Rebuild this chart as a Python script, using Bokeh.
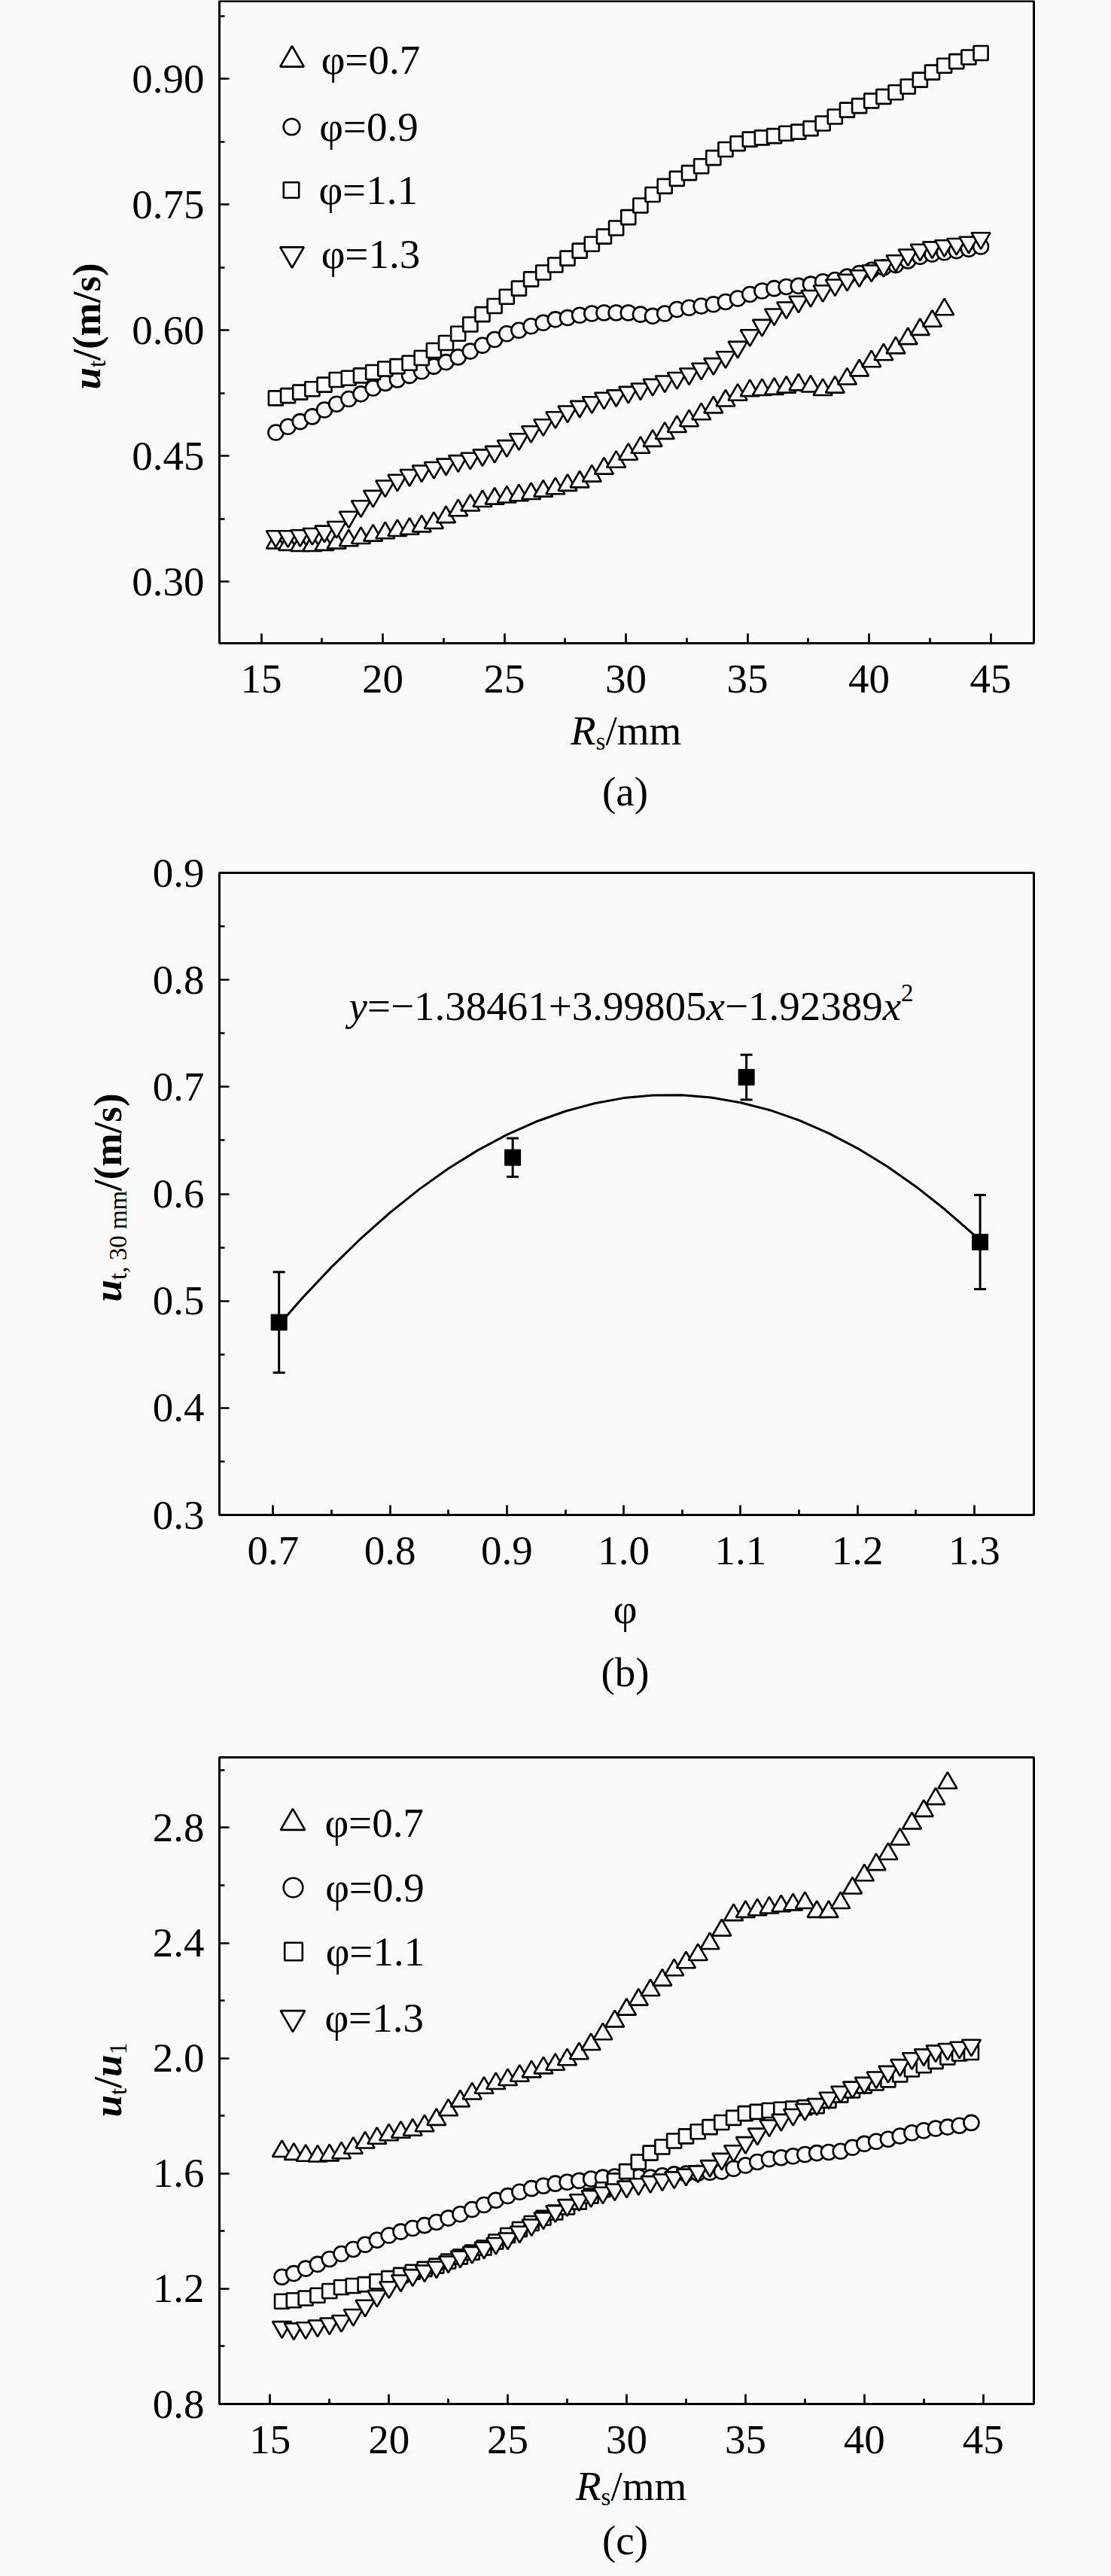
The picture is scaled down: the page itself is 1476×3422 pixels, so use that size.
from math import pi
from bokeh.plotting import figure
from bokeh.layouts import column
from bokeh.models import (Range1d, FixedTicker, NumeralTickFormatter, Label, Legend, LinearAxis,
                          LegendItem, ColumnDataSource, Whisker, TeeHead, BoxAnnotation, Grid)
from bokeh.embed import file_html
from bokeh.resources import INLINE

# ---------------- data ----------------
XA = [15.6, 16.1, 16.6, 17.1, 17.6, 18.1, 18.6, 19.1, 19.6, 20.1, 20.6, 21.1, 21.6, 22.1, 22.6,
      23.1, 23.6, 24.1, 24.6, 25.1, 25.6, 26.1, 26.6, 27.1, 27.6, 28.1, 28.6, 29.1, 29.6, 30.1,
      30.6, 31.1, 31.6, 32.1, 32.6, 33.1, 33.6, 34.1, 34.6, 35.1, 35.6, 36.1, 36.6, 37.1, 37.6,
      38.1, 38.6, 39.1, 39.6, 40.1, 40.6, 41.1, 41.6, 42.1, 42.6, 43.1, 43.6, 44.1, 44.6]
A_07 = [0.346, 0.344, 0.343, 0.343, 0.344, 0.346, 0.349, 0.352, 0.355, 0.358,
        0.361, 0.363, 0.366, 0.370, 0.377, 0.385, 0.391, 0.396, 0.399, 0.401,
        0.403, 0.405, 0.408, 0.411, 0.415, 0.419, 0.426, 0.435, 0.443, 0.452,
        0.460, 0.468, 0.477, 0.485, 0.492, 0.500, 0.508, 0.516, 0.523, 0.528,
        0.529, 0.530, 0.532, 0.535, 0.533, 0.529, 0.532, 0.542, 0.552, 0.563,
        0.571, 0.579, 0.590, 0.601, 0.611, 0.625]
A_09 = [0.478, 0.485, 0.491, 0.497, 0.505, 0.512, 0.518, 0.524, 0.531, 0.537,
        0.541, 0.546, 0.551, 0.557, 0.562, 0.568, 0.575, 0.582, 0.589, 0.596,
        0.600, 0.605, 0.609, 0.613, 0.615, 0.618, 0.620, 0.621, 0.621, 0.621,
        0.619, 0.617, 0.620, 0.625, 0.627, 0.629, 0.631, 0.634, 0.638, 0.643,
        0.647, 0.650, 0.652, 0.653, 0.655, 0.658, 0.660, 0.664, 0.668, 0.672,
        0.675, 0.678, 0.683, 0.688, 0.691, 0.693, 0.695, 0.697, 0.700]
A_11 = [0.519, 0.522, 0.526, 0.530, 0.535, 0.541, 0.543, 0.546, 0.550, 0.554,
        0.557, 0.561, 0.567, 0.576, 0.585, 0.596, 0.607, 0.619, 0.629, 0.640,
        0.650, 0.661, 0.669, 0.678, 0.686, 0.695, 0.703, 0.712, 0.722, 0.735,
        0.749, 0.762, 0.772, 0.781, 0.788, 0.796, 0.806, 0.816, 0.823, 0.828,
        0.830, 0.832, 0.835, 0.837, 0.841, 0.847, 0.855, 0.863, 0.868, 0.874,
        0.879, 0.884, 0.891, 0.899, 0.908, 0.916, 0.921, 0.926, 0.931]
A_13 = [0.354, 0.354, 0.355, 0.357, 0.360, 0.365, 0.377, 0.390, 0.402, 0.414,
        0.421, 0.427, 0.432, 0.436, 0.440, 0.444, 0.447, 0.451, 0.455, 0.462,
        0.470, 0.479, 0.487, 0.496, 0.503, 0.509, 0.514, 0.519, 0.522, 0.526,
        0.530, 0.535, 0.539, 0.543, 0.548, 0.554, 0.560, 0.568, 0.580, 0.594,
        0.606, 0.619, 0.627, 0.634, 0.641, 0.647, 0.654, 0.660, 0.665, 0.671,
        0.677, 0.683, 0.690, 0.696, 0.699, 0.701, 0.703, 0.705, 0.710]

PHI = [0.705, 0.905, 1.105, 1.305]
UT30 = [0.480, 0.634, 0.709, 0.555]
UT30_ERR = [0.047, 0.018, 0.021, 0.044]
FIT_X = [0.705, 0.725, 0.75, 0.775, 0.80, 0.825, 0.85, 0.875, 0.90, 0.925, 0.95, 0.975, 1.00,
         1.025, 1.05, 1.075, 1.10, 1.125, 1.15, 1.175, 1.20, 1.225, 1.25, 1.275, 1.30, 1.305]
FIT_Y = [0.4778, 0.5027, 0.5317, 0.5583, 0.5825, 0.6043, 0.6237, 0.6407, 0.6553, 0.6675,
         0.6772, 0.6846, 0.6896, 0.6921, 0.6923, 0.6900, 0.6853, 0.6783, 0.6688, 0.6569,
         0.6427, 0.6260, 0.6069, 0.5854, 0.5615, 0.5564]

XC = [15.5, 16.0, 16.5, 17.0, 17.5, 18.0, 18.5, 19.0, 19.5, 20.0, 20.5, 21.0, 21.5, 22.0, 22.5,
      23.0, 23.5, 24.0, 24.5, 25.0, 25.5, 26.0, 26.5, 27.0, 27.5, 28.0, 28.5, 29.0, 29.5, 30.0,
      30.5, 31.0, 31.5, 32.0, 32.5, 33.0, 33.5, 34.0, 34.5, 35.0, 35.5, 36.0, 36.5, 37.0, 37.5,
      38.0, 38.5, 39.0, 39.5, 40.0, 40.5, 41.0, 41.5, 42.0, 42.5, 43.0, 43.5, 44.0, 44.5]
C_07 = [1.677, 1.667, 1.662, 1.660, 1.663, 1.671, 1.688, 1.707, 1.722, 1.734,
        1.743, 1.751, 1.765, 1.787, 1.820, 1.851, 1.877, 1.897, 1.912, 1.925,
        1.939, 1.953, 1.966, 1.978, 1.995, 2.016, 2.048, 2.084, 2.128, 2.169,
        2.203, 2.236, 2.271, 2.306, 2.332, 2.359, 2.398, 2.444, 2.497, 2.508,
        2.515, 2.522, 2.528, 2.533, 2.539, 2.508, 2.508, 2.539, 2.590, 2.635,
        2.672, 2.709, 2.760, 2.815, 2.858, 2.900, 2.955]
C_09 = [1.241, 1.253, 1.270, 1.285, 1.303, 1.321, 1.337, 1.353, 1.369, 1.385,
        1.398, 1.410, 1.420, 1.431, 1.445, 1.459, 1.475, 1.491, 1.507, 1.522,
        1.536, 1.548, 1.557, 1.565, 1.570, 1.575, 1.581, 1.586, 1.589, 1.590,
        1.588, 1.586, 1.592, 1.597, 1.599, 1.601, 1.604, 1.607, 1.617, 1.628,
        1.640, 1.650, 1.655, 1.660, 1.666, 1.671, 1.674, 1.677, 1.690, 1.703,
        1.711, 1.719, 1.730, 1.741, 1.749, 1.756, 1.761, 1.766, 1.776]
C_11 = [1.156, 1.160, 1.167, 1.177, 1.192, 1.205, 1.210, 1.215, 1.225, 1.236,
        1.247, 1.258, 1.268, 1.279, 1.295, 1.311, 1.326, 1.342, 1.363, 1.385,
        1.406, 1.427, 1.446, 1.465, 1.483, 1.501, 1.522, 1.544, 1.575, 1.607,
        1.640, 1.671, 1.692, 1.713, 1.729, 1.745, 1.761, 1.777, 1.793, 1.808,
        1.814, 1.819, 1.822, 1.825, 1.829, 1.834, 1.853, 1.872, 1.888, 1.904,
        1.914, 1.925, 1.943, 1.961, 1.975, 1.989, 2.003, 2.016, 2.020]
C_13 = [1.067, 1.061, 1.064, 1.071, 1.079, 1.088, 1.109, 1.141, 1.175, 1.205,
        1.228, 1.247, 1.262, 1.275, 1.293, 1.311, 1.326, 1.342, 1.357, 1.374,
        1.397, 1.421, 1.445, 1.469, 1.490, 1.508, 1.521, 1.533, 1.544, 1.554,
        1.563, 1.571, 1.578, 1.586, 1.596, 1.607, 1.626, 1.650, 1.678, 1.707,
        1.737, 1.766, 1.786, 1.804, 1.822, 1.840, 1.862, 1.883, 1.899, 1.914,
        1.933, 1.953, 1.976, 1.999, 2.012, 2.025, 2.031, 2.037, 2.045]

SERIES_LABELS = ["φ=0.7", "φ=0.9", "φ=1.1", "φ=1.3"]

XA_TICKS = [15, 20, 25, 30, 35, 40, 45]
XA_MINOR = [17.5, 22.5, 27.5, 32.5, 37.5, 42.5]
YA_TICKS = [0.30, 0.45, 0.60, 0.75, 0.90]
YA_MINOR = [0.375, 0.525, 0.675, 0.825, 0.975]
XB_TICKS = [0.7, 0.8, 0.9, 1.0, 1.1, 1.2, 1.3]
XB_MINOR = [0.75, 0.85, 0.95, 1.05, 1.15, 1.25]
YB_TICKS = [0.3, 0.4, 0.5, 0.6, 0.7, 0.8, 0.9]
YB_MINOR = [0.35, 0.45, 0.55, 0.65, 0.75, 0.85]
XC_TICKS = [15, 20, 25, 30, 35, 40, 45]
XC_MINOR = [17.5, 22.5, 27.5, 32.5, 37.5, 42.5]
YC_TICKS = [0.8, 1.2, 1.6, 2.0, 2.4, 2.8]
YC_MINOR = [1.0, 1.4, 1.8, 2.2, 2.6, 3.0]

# ---------------- style / layout ----------------
FONT = "Liberation Serif"
FS = "55px"
YFS = "53px"
SUB = "33px"
BG = "#fafafa"
LW = 3
TLW = 2.7
MLW = 2.6
MARGIN = 8
CANVAS_W = 1460

# plot box geometry in page pixels; canvas top and height per panel
PA = dict(L=299, T=9, W=1082, H=853, xr=(13.28, 46.78), yr=(0.2264, 0.993), top=8, height=1100)
PB = dict(L=299, T=1167, W=1082, H=853, xr=(0.654, 1.351), yr=(0.3, 0.9), top=1108, height=1172)
PC = dict(L=299, T=2342, W=1082, H=859, xr=(12.87, 47.13), yr=(0.8, 3.044), top=2280, height=1134)


def canvas_ranges(P):
    x0, x1 = P["xr"]
    y0, y1 = P["yr"]
    sx = (x1 - x0) / P["W"]
    sy = (y1 - y0) / P["H"]
    cx0 = x0 - (P["L"] - MARGIN) * sx
    cy1 = y1 + (P["T"] - P["top"]) * sy
    P["sx"], P["sy"], P["cx0"], P["cy1"] = sx, sy, cx0, cy1
    return (cx0, cx0 + CANVAS_W * sx), (cy1 - P["height"] * sy, cy1)


def style_axis(ax, ticks, minor, fmt, standoff):
    ax.ticker = FixedTicker(ticks=ticks, minor_ticks=minor)
    ax.formatter = NumeralTickFormatter(format=fmt)
    ax.axis_line_width = LW
    ax.axis_line_color = "black"
    ax.major_tick_line_width = TLW
    ax.minor_tick_line_width = TLW
    ax.major_tick_line_color = "black"
    ax.minor_tick_line_color = "black"
    ax.major_tick_in = 13
    ax.major_tick_out = 0
    ax.minor_tick_in = 7
    ax.minor_tick_out = 0
    ax.major_label_text_font = FONT
    ax.major_label_text_font_size = FS
    ax.major_label_text_color = "black"
    ax.major_label_standoff = standoff


def make_fig(P, xt, xm, xfmt, yt, ym, yfmt):
    xr, yr = canvas_ranges(P)
    p = figure(width=CANVAS_W, height=P["height"], min_border=0,
               x_range=Range1d(*xr), y_range=Range1d(*yr),
               x_axis_location=None, y_axis_location=None,
               output_backend="svg", toolbar_location=None,
               background_fill_color=BG, border_fill_color=BG)
    p.outline_line_color = None
    for r in p.center:
        if isinstance(r, Grid):
            r.visible = False
    x0, x1 = P["xr"]
    y0, y1 = P["yr"]
    xax = LinearAxis(fixed_location=y0, bounds=(x0, x1))
    style_axis(xax, xt, xm, xfmt, 29)
    p.add_layout(xax, "below")
    yax = LinearAxis(fixed_location=x0, bounds=(y0, y1))
    style_axis(yax, yt, ym, yfmt, 20)
    p.add_layout(yax, "left")
    p.add_layout(BoxAnnotation(left=x0, right=x1, bottom=y0, top=y1, fill_color=None,
                               fill_alpha=0, line_color="black", line_width=LW, line_alpha=1))
    return p


def put(p, P, px, py, text, size=FS, style="normal", align="left", baseline="middle", angle=0.0):
    dx = P["cx0"] + (px - MARGIN) * P["sx"]
    dy = P["cy1"] - (py - P["top"]) * P["sy"]
    p.add_layout(Label(x=dx, y=dy, x_units="data", y_units="data", text=text,
                       text_font=FONT, text_font_size=size, text_font_style=style,
                       text_color="black", text_align=align, text_baseline=baseline,
                       angle=angle, angle_units="rad"))


def add_series(p, xs, ys_list, sizes):
    markers = ["triangle", "circle", "square", "inverted_triangle"]
    rends = []
    for ys, mk, sz in zip(ys_list, markers, sizes):
        src = ColumnDataSource(dict(x=xs[:len(ys)], y=ys))
        r = p.scatter(x="x", y="y", source=src, marker=mk, size=sz,
                      line_color="black", line_width=MLW, fill_color=BG)
        rends.append(r)
    return rends


def add_legend(p, P, rends, cx, text_left, centers, key_sizes):
    gh = 90
    canvas_bottom = P["top"] + P["height"]
    for lab, r, cy, ks in zip(SERIES_LABELS, rends, centers, key_sizes):
        gw = ks / 0.4
        left_canvas = cx - gw / 2 - MARGIN
        from_bottom = canvas_bottom - (cy + gh / 2)
        leg = Legend(items=[LegendItem(label=lab, renderers=[r])],
                     location=(left_canvas, from_bottom), orientation="vertical",
                     glyph_width=int(round(gw)), glyph_height=gh,
                     label_standoff=int(round(text_left - cx - gw / 2)), spacing=0,
                     padding=0, margin=0, background_fill_alpha=0, border_line_alpha=0,
                     label_text_font=FONT, label_text_font_size=FS, label_text_color="black")
        p.add_layout(leg)


MSIZES = [25, 20, 19, 25]

# ---------------- panel (a) ----------------
pa = make_fig(PA, XA_TICKS, XA_MINOR, "0", YA_TICKS, YA_MINOR, "0.00")
ra = add_series(pa, XA, [A_07, A_09, A_11, A_13], MSIZES)
add_legend(pa, PA, ra, 395, 432, [87, 176, 260, 345], [31.5, 21.5, 20.5, 31.5])
put(pa, PA, 122, 525, "u", size=YFS, style="bold italic", angle=pi / 2)
put(pa, PA, 136, 495.5, "t", size=SUB, angle=pi / 2)
put(pa, PA, 122, 486.3, "/(m/s)", size=YFS, style="bold", angle=pi / 2)
put(pa, PA, 765.5, 978, "R", style="italic")
put(pa, PA, 799.1, 992, "s", size=SUB)
put(pa, PA, 811.9, 978, "/mm")
put(pa, PA, 838, 1059, "(a)", align="center")

# ---------------- panel (b) ----------------
pb = make_fig(PB, XB_TICKS, XB_MINOR, "0.0", YB_TICKS, YB_MINOR, "0.0")
pb.line(FIT_X, FIT_Y, line_color="black", line_width=LW)
src_b = ColumnDataSource(dict(x=PHI, y=UT30,
                              lo=[v - e for v, e in zip(UT30, UT30_ERR)],
                              hi=[v + e for v, e in zip(UT30, UT30_ERR)]))
wk = Whisker(base="x", upper="hi", lower="lo", source=src_b, dimension="height",
             line_color="black", line_width=LW,
             upper_head=TeeHead(size=16, line_color="black", line_width=LW),
             lower_head=TeeHead(size=16, line_color="black", line_width=LW))
pb.add_layout(wk)
pb.scatter(x="x", y="y", source=src_b, marker="square", size=21,
           line_color="black", fill_color="black")
put(pb, PB, 471, 1344, "y", size="55px", style="italic")
put(pb, PB, 495.4, 1344, "=−1.38461+3.99805", size="55px")
put(pb, PB, 946, 1344, "x", size="55px", style="italic")
put(pb, PB, 970.4, 1344, "−1.92389", size="55px")
put(pb, PB, 1180.2, 1344, "x", size="55px", style="italic")
put(pb, PB, 1204.6, 1326, "2", size=SUB)
put(pb, PB, 150, 1737, "u", size=YFS, style="bold italic", angle=pi / 2)
put(pb, PB, 164, 1707.5, "t, 30 mm", size=SUB, angle=pi / 2)
put(pb, PB, 150, 1589.4, "/(m/s)", size=YFS, style="bold", angle=pi / 2)
put(pb, PB, 838, 2145, "φ", align="center")
put(pb, PB, 838, 2229, "(b)", align="center")

# ---------------- panel (c) ----------------
pc = make_fig(PC, XC_TICKS, XC_MINOR, "0", YC_TICKS, YC_MINOR, "0.0")
rc = add_series(pc, XC, [C_07, C_09, C_11, C_13], MSIZES)
add_legend(pc, PC, rc, 397, 440, [2429, 2515, 2600, 2688], [32.5, 25.5, 23.5, 32.5])
put(pc, PC, 150, 2820, "u", size=YFS, style="bold italic", angle=pi / 2)
put(pc, PC, 164, 2790.5, "t", size=SUB, angle=pi / 2)
put(pc, PC, 150, 2781.3, "/", size=YFS, style="bold", angle=pi / 2)
put(pc, PC, 150, 2766.6, "u", size=YFS, style="bold italic", angle=pi / 2)
put(pc, PC, 164, 2737.1, "1", size=SUB, angle=pi / 2)
put(pc, PC, 772.5, 3310, "R", style="italic")
put(pc, PC, 806.1, 3324, "s", size=SUB)
put(pc, PC, 818.9, 3310, "/mm")
put(pc, PC, 838, 3382, "(c)", align="center")

layout = column(pa, pb, pc, spacing=0)
html = file_html(layout, INLINE, title="chart")
html = html.replace("</head>", "<style>html, body {background-color: %s;}</style></head>" % BG, 1)
open("out.html", "w").write(html)
